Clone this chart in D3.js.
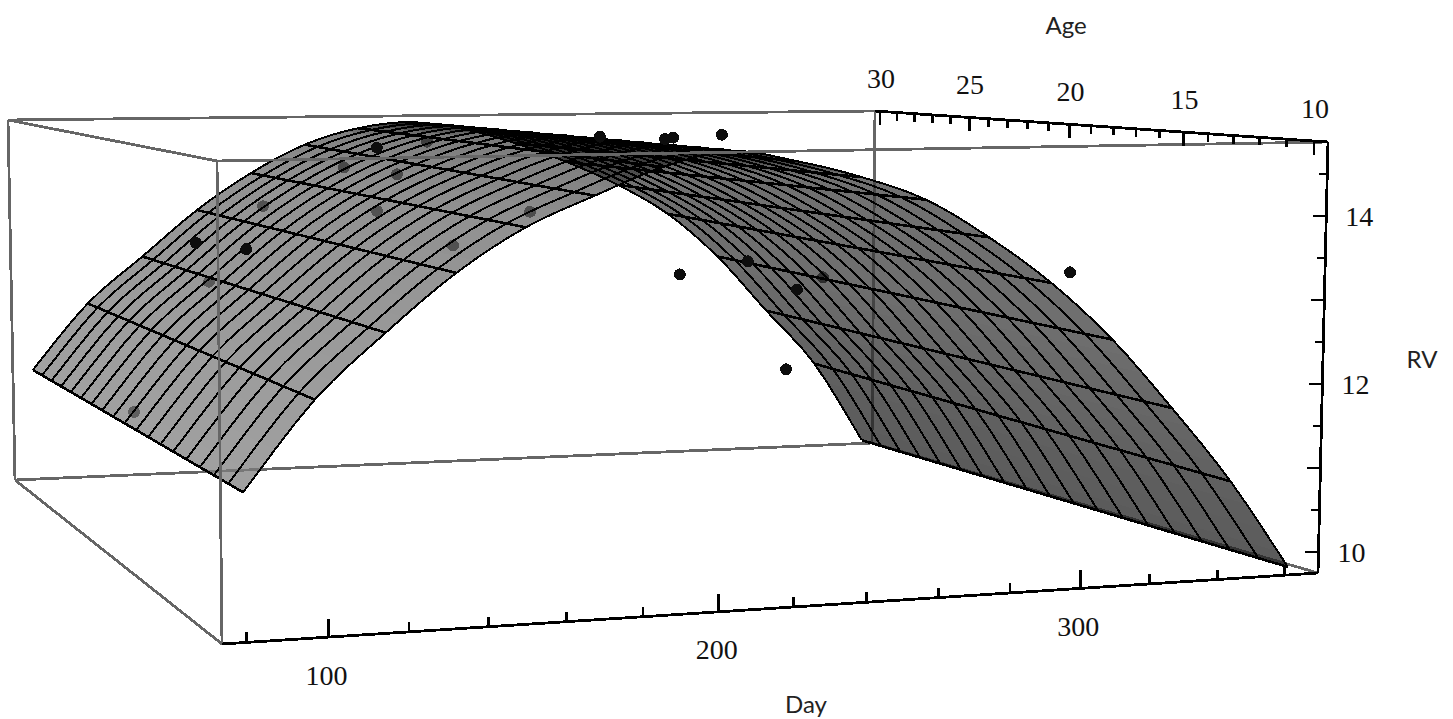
<!DOCTYPE html>
<html>
<head>
<meta charset="utf-8">
<script src="https://cdnjs.cloudflare.com/ajax/libs/d3/7.8.5/d3.min.js"></script>
<style>
	body { margin: 0; background: #fff; }
	svg { display: block; }
	.num { font-family: "Liberation Serif", serif; font-size: 28px; fill: #111; text-anchor: middle; dominant-baseline: central; }
	.title { font-family: Lato, "Open Sans", sans-serif; font-size: 24px; fill: #222; text-anchor: middle; dominant-baseline: central; }
</style>
</head>
<body>
<script>
// surface: rv along the age 11 edge and the age 29.7 edge
const edgeDaysFront = [84.4, 102.5, 120.5, 138.6, 156.6, 174.7, 192.8, 210.8, 228.9, 246.9, 265, 283, 301.1, 319.2, 337.2, 355.3, 373.4];
const edgeRvFront = [11.21, 12.19, 12.9, 13.54, 14.03, 14.37, 14.68, 14.85, 14.72, 14.52, 14.24, 13.78, 13.22, 12.52, 11.67, 10.75, 9.67];
const edgeDaysBack = [78.9, 96.6, 114.3, 132.1, 149.8, 167.5, 185.2, 202.9, 220.7, 238.4, 256.1, 273.8, 291.5, 309.3, 327, 344.7, 362.5];
const edgeRvBack = [11.35, 12.27, 12.92, 13.57, 14.09, 14.49, 14.72, 14.8, 14.69, 14.47, 14.18, 13.83, 13.38, 12.72, 11.88, 11.05, 9.85];
const ageLines = [11, 12.04, 13.08, 14.12, 15.16, 16.2, 17.23, 18.27, 19.31, 20.35, 21.39, 22.43, 23.47, 24.51, 25.55, 26.58, 27.62, 28.66, 29.7];

// observations
const pointDays = [106, 120.8, 123.2, 122.3, 141, 159, 173.1, 167.4, 153.5, 154.7, 176, 184.8, 220.1, 229.6, 237.3, 241.3, 271.1, 278.3, 271.6, 275.8, 289.9, 320.8, 223.6];
const pointAges = [28, 25, 27, 22, 26, 24, 25, 22, 20, 15, 15, 24, 20, 18, 19, 17, 25, 20, 21, 19, 20, 13, 22];
const pointRv = [10.83, 12.78, 13.22, 13.35, 13.75, 14.33, 14.56, 14.29, 13.89, 13.66, 14.04, 14.66, 14.8, 14.81, 14.8, 14.88, 12.71, 11.67, 13.07, 12.78, 12.88, 13.23, 14.44];
const pointHidden = [1, 1, 0, 0, 1, 1, 0, 1, 1, 1, 1, 1, 0, 0, 0, 0, 0, 0, 0, 0, 1, 0, 1];

const dayTicks = d3.range(80, 361, 20);
const dayLabels = [100, 200, 300];
const ageTicks = d3.range(10, 31, 1);
const ageLabels = [30, 25, 20, 15, 10];
const rvTicks = d3.range(10, 14.6, 0.5);
const rvLabels = [14, 12, 10];

const width = 1453;
const height = 719;

const svg = d3.select("body").append("svg").attr("width", width).attr("height", height);

// box corners on screen, keyed day end / age end / rv end
const corners = {
	"000": [222, 644], "001": [217, 161],
	"100": [1318, 573], "101": [1328, 142],
	"010": [15, 480], "011": [8, 120],
	"110": [872, 443], "111": [875, 111],
};
const depth = (a, b) => 1 + 0.118 * a + 0.34 * b;

const dayScale = d3.scaleLinear().domain([74, 370]).range([0, 1]);
const ageScale = d3.scaleLinear().domain([9.5, 30.3]).range([0, 1]);
const rvScale = d3.scaleLinear().domain([9.75, 14.88]).range([0, 1]);

const project = (day, age, rv) => {
	const u = dayScale(day), v = ageScale(age), r = rvScale(rv);
	let x = 0, y = 0, z = 0;
	for (const a of [0, 1]) for (const b of [0, 1]) for (const c of [0, 1]) {
		const k = (a ? u : 1 - u) * (b ? v : 1 - v) * (c ? r : 1 - r) * depth(a, b);
		const p = corners[`${a}${b}${c}`];
		x += k * p[0]; y += k * p[1]; z += k;
	}
	return [x / z, y / z];
};

const dayMin = dayScale.domain()[0], dayMax = dayScale.domain()[1];
const ageMin = ageScale.domain()[0], ageMax = ageScale.domain()[1];
const rvMin = rvScale.domain()[0], rvMax = rvScale.domain()[1];

const line = d3.line();
const segment = (g, a, b) => g.append("path").attr("d", line([project(...a), project(...b)]));

const boxStyle = (g) => g.attr("fill", "none").attr("stroke", "#666").attr("stroke-width", 2.8).attr("shape-rendering", "crispEdges");

// back edges sit under the translucent surface
const boxBack = svg.append("g").call(boxStyle);
segment(boxBack, [dayMin, ageMax, rvMin], [dayMin, ageMax, rvMax]);
segment(boxBack, [dayMin, ageMax, rvMax], [dayMax, ageMax, rvMax]);
segment(boxBack, [dayMax, ageMax, rvMin], [dayMax, ageMax, rvMax]);
segment(boxBack, [dayMin, ageMax, rvMin], [dayMax, ageMax, rvMin]);
segment(boxBack, [dayMax, ageMax, rvMin], [dayMax, ageMin, rvMin]);

const dot = d3.symbol().type(d3.symbolCircle).size(110);
const drawPoints = (hidden) => {
	svg.append("g")
		.selectAll("path")
		.data(d3.range(pointDays.length).filter((i) => pointHidden[i] === hidden))
		.join("path")
		.attr("d", dot)
		.attr("transform", (i) => `translate(${project(pointDays[i], pointAges[i], pointRv[i])})`)
		.attr("fill", "#0d0d0d")
		.attr("shape-rendering", "crispEdges");
};
drawPoints(1);

// surface, smoothed between the read nodes so the outline does not show corners
const smooth = (values, t) => {
	const i = Math.min(Math.floor(t), values.length - 2), f = t - i;
	const p0 = values[Math.max(i - 1, 0)], p1 = values[i], p2 = values[i + 1], p3 = values[Math.min(i + 2, values.length - 1)];
	return 0.5 * (2 * p1 + (p2 - p0) * f + (2 * p0 - 5 * p1 + 4 * p2 - p3) * f * f + (3 * p1 - p0 - 3 * p2 + p3) * f * f * f);
};
const ageToEdge = d3.scaleLinear().domain([ageLines[0], ageLines[ageLines.length - 1]]).range([0, 1]);
const node = (t, age) => {
	const k = ageToEdge(age);
	return project(
		d3.interpolateNumber(smooth(edgeDaysFront, t), smooth(edgeDaysBack, t))(k),
		age,
		d3.interpolateNumber(smooth(edgeRvFront, t), smooth(edgeRvBack, t))(k)
	);
};

const nodeCount = edgeDaysFront.length - 1;
const steps = d3.range(0, nodeCount * 4 + 1).map((s) => s / 4);

const shade = d3.scaleLinear()
	.domain([0, 4, 6.5, 8, 13, 16])
	.range([126, 104, 70, 62, 58, 30]);

// cells seen edge-on along the ridge come out nearly black
const grazing = d3.scaleLinear().domain([18, 75]).range([0, 1]).clamp(true);

const cells = [];
for (let s = 0; s < steps.length - 1; s++) {
	for (let j = 0; j < ageLines.length - 1; j++) {
		const ring = [node(steps[s], ageLines[j]), node(steps[s + 1], ageLines[j]), node(steps[s + 1], ageLines[j + 1]), node(steps[s], ageLines[j + 1])];
		cells.push({ s, ring, lit: grazing(Math.abs(d3.polygonArea(ring))) });
	}
}
svg.append("g")
	.selectAll("path")
	.data(cells)
	.join("path")
	.attr("d", (d) => line(d.ring) + "Z")
	.attr("fill", (d) => {
		const g = shade(steps[d.s] + 0.125) * d.lit;
		return d3.rgb(g, g, g);
	})
	.attr("fill-opacity", (d) => 1 - 0.265 * d.lit)
	.attr("shape-rendering", "crispEdges");

const mesh = svg.append("g").attr("fill", "none").attr("stroke", "#000").attr("shape-rendering", "crispEdges");
mesh.selectAll(".age-line")
	.data(ageLines)
	.join("path")
	.attr("class", "age-line")
	.attr("stroke-width", 2)
	.attr("d", (age) => line(steps.map((t) => node(t, age))));
mesh.selectAll(".day-line")
	.data(d3.range(0, nodeCount + 1))
	.join("path")
	.attr("class", "day-line")
	.attr("stroke-width", 2.6)
	.attr("d", (i) => line(ageLines.map((age) => node(i, age))));

drawPoints(0);

// front edges stay on top
const boxFront = svg.append("g").call(boxStyle);
segment(boxFront, [dayMin, ageMin, rvMin], [dayMin, ageMin, rvMax]);
segment(boxFront, [dayMin, ageMin, rvMax], [dayMax, ageMin, rvMax]);
segment(boxFront, [dayMin, ageMax, rvMax], [dayMin, ageMin, rvMax]);
segment(boxFront, [dayMin, ageMax, rvMin], [dayMin, ageMin, rvMin]);

// axes
const axes = svg.append("g").attr("fill", "none").attr("stroke", "#000").attr("stroke-width", 2.8).attr("shape-rendering", "crispEdges");
segment(axes, [dayMin, ageMin, rvMin], [dayMax, ageMin, rvMin]);
segment(axes, [dayMax, ageMax, rvMax], [dayMax, ageMin, rvMax]);
segment(axes, [dayMax, ageMin, rvMin], [dayMax, ageMin, rvMax]);

axes.selectAll(".day-tick")
	.data(dayTicks)
	.join("path")
	.attr("class", "day-tick")
	.attr("d", (d) => {
		const [x, y] = project(d, ageMin, rvMin);
		return line([[x, y], [x, y - (dayLabels.includes(d) ? 18 : 10)]]);
	});
axes.selectAll(".age-tick")
	.data(ageTicks)
	.join("path")
	.attr("class", "age-tick")
	.attr("d", (d) => {
		const [x, y] = project(dayMax, d, rvMax);
		return line([[x, y], [x, y + (ageLabels.includes(d) ? 14 : 8)]]);
	});
axes.selectAll(".rv-tick")
	.data(rvTicks)
	.join("path")
	.attr("class", "rv-tick")
	.attr("d", (d) => {
		const [x, y] = project(dayMax, ageMin, d);
		return line([[x, y], [x - (d % 1 === 0 ? 13 : 8), y]]);
	});

svg.selectAll(".day-label")
	.data(dayLabels)
	.join("text")
	.attr("class", "num day-label")
	.attr("transform", (d) => {
		const [x, y] = project(d, ageMin, rvMin);
		return `translate(${x - 2},${y + 38})`;
	})
	.text((d) => d);
svg.selectAll(".age-label")
	.data(ageLabels)
	.join("text")
	.attr("class", "num age-label")
	.attr("transform", (d) => {
		const [x, y] = project(dayMax, d, rvMax);
		return `translate(${x + 1},${y - 33})`;
	})
	.text((d) => d);
svg.selectAll(".rv-label")
	.data(rvLabels)
	.join("text")
	.attr("class", "num rv-label")
	.attr("transform", (d) => {
		const [x, y] = project(dayMax, ageMin, d);
		return `translate(${x + 33},${y + 1})`;
	})
	.text((d) => d);

svg.append("text").attr("class", "title").attr("x", 1066).attr("y", 24).text("Age");
svg.append("text").attr("class", "title").attr("x", 806).attr("y", 703).text("Day");
svg.append("text").attr("class", "title").attr("x", 1422).attr("y", 358).text("RV");
</script>
</body>
</html>
